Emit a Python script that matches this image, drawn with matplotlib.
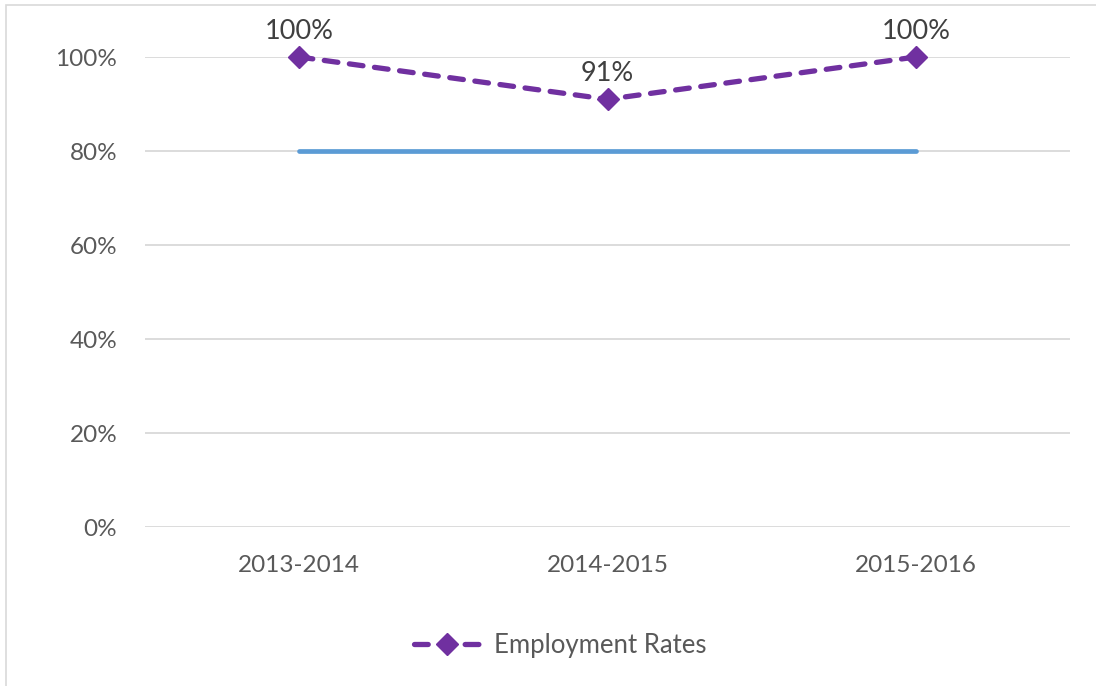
import matplotlib
matplotlib.use("Agg")
import matplotlib.pyplot as plt
from matplotlib.patches import Rectangle
from matplotlib.ticker import FuncFormatter

categories = ["2013-2014", "2014-2015", "2015-2016"]
employment_rates = [1.00, 0.91, 1.00]
benchmark = [0.80, 0.80, 0.80]
y_ticks = [0.0, 0.2, 0.4, 0.6, 0.8, 1.0]

plt.rcParams['font.family'] = ['Lato', 'DejaVu Sans']

fig = plt.figure(figsize=(10.96, 6.86), dpi=100)
# chart frame
fig.patches.append(Rectangle((6/1096, -0.01), 1.0, 1 - 5/686 + 0.01, transform=fig.transFigure,
                             fill=False, edgecolor="#D9D9D9", linewidth=1.2))
ax = fig.add_axes([145/1096, 1 - 527/686, 925/1096, 470/686])

x = list(range(len(categories)))
ax.plot(x, benchmark, color="#5B9BD5", linewidth=3.4, solid_capstyle="round", zorder=3)
line, = ax.plot(x, employment_rates, color="#7030A0", linewidth=3.8, linestyle=(0, (2.6, 2.2)),
                dash_capstyle="round", marker="D", markersize=11, zorder=4,
                clip_on=False, label="Employment Rates")

for xi, v in zip(x, employment_rates):
    ax.annotate(f"{v:.0%}", (xi, v), xytext=(0, 13), textcoords="offset points",
                ha="center", va="baseline", fontsize=19.5, color="#404040")

ax.set_xlim(-0.5, 2.5)
ax.set_ylim(0, 1.0)
ax.set_yticks(y_ticks)
ax.yaxis.set_major_formatter(FuncFormatter(lambda v, p: f"{v:.0%}"))
ax.set_xticks(x)
ax.set_xticklabels(categories)
ax.tick_params(axis="both", length=0, labelsize=17.5, labelcolor="#595959")
ax.tick_params(axis="y", pad=20)
ax.tick_params(axis="x", pad=20)
ax.grid(axis="y", color="#D9D9D9", linewidth=1.3, zorder=0)
ax.set_axisbelow(True)
for s in ax.spines.values():
    s.set_visible(False)

leg = fig.legend(handles=[line], loc="center", bbox_to_anchor=(560/1096, 1 - 645/686),
                 frameon=False, fontsize=18.5, handlelength=2.6, handletextpad=0.5,
                 labelcolor="#595959")

fig.savefig("out.png", dpi=100)
